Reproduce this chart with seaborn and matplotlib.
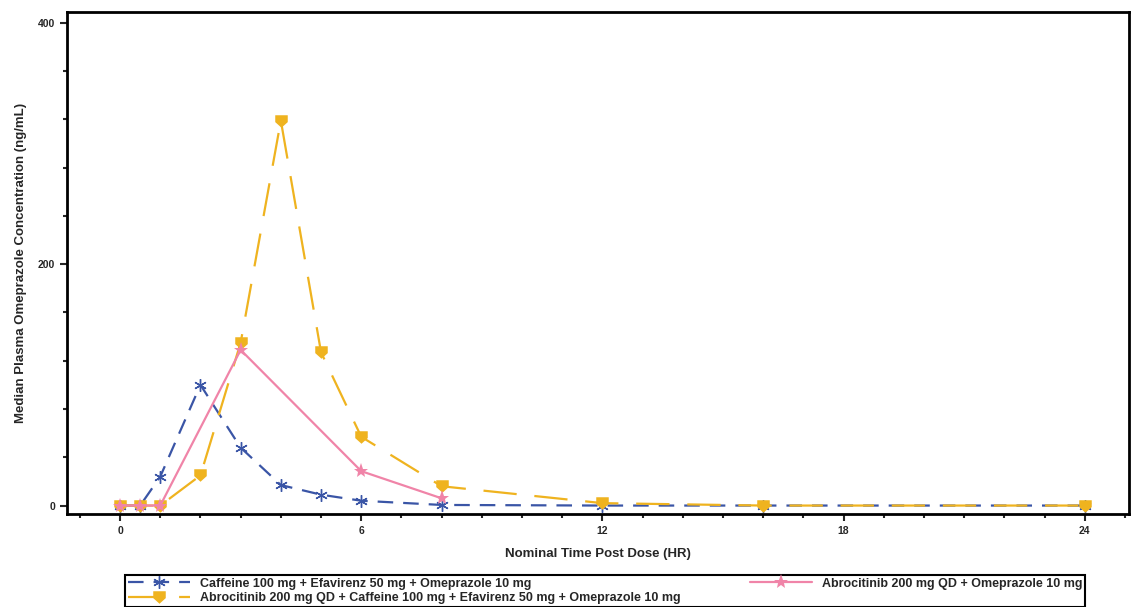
import numpy as np
import pandas as pd
import seaborn as sns
import matplotlib.pyplot as plt
from matplotlib.ticker import MultipleLocator

# nominal time (hr) and median concentrations (ng/mL)
time_caf = [0, 0.5, 1, 2, 3, 4, 5, 6, 8, 12, 16, 24]
conc_caf = [0, 0, 24, 100, 48, 17, 9, 4, 0.5, 0, 0, 0]

time_combo = [0, 0.5, 1, 2, 3, 4, 5, 6, 8, 12, 16, 24]
conc_combo = [0, 0, 0, 25, 135, 319, 127, 57, 16, 2, 0, 0]

time_abro = [0, 0.5, 1, 3, 6, 8]
conc_abro = [0, 0, 0, 129, 28.5, 6]

labels = [
    "Caffeine 100 mg + Efavirenz 50 mg + Omeprazole 10 mg",
    "Abrocitinib 200 mg QD + Caffeine 100 mg + Efavirenz 50 mg + Omeprazole 10 mg",
    "Abrocitinib 200 mg QD + Omeprazole 10 mg",
]
x_ticks = [0, 6, 12, 18, 24]
y_ticks = [0, 200, 400]

sns.set_style("ticks")
plt.rcParams["font.family"] = ["Liberation Sans", "DejaVu Sans"]

fig, ax = plt.subplots(figsize=(11.31, 6.07), dpi=100)
fig.subplots_adjust(left=67 / 1131, right=1129 / 1131, top=1 - 12 / 607, bottom=1 - 514 / 607)

blue = "#3a55a6"
yellow = "#efb31f"
pink = "#f084a8"

shield = [(-1, 1), (1, 1), (1, -0.1), (0, -1), (-1, -0.1), (-1, 1)]

sns.lineplot(x=time_caf, y=conc_caf, ax=ax, color=blue, label=labels[0],
             linestyle=(0, (7, 4.5)), linewidth=1.6, marker=(6, 2, 0), markersize=9,
             markeredgewidth=1, markeredgecolor=blue, estimator=None)
sns.lineplot(x=time_combo, y=conc_combo, ax=ax, color=yellow, label=labels[1],
             linestyle=(0, (15, 8)), linewidth=1.6, marker=shield, markersize=9,
             markeredgewidth=0, estimator=None)
sns.lineplot(x=time_abro, y=conc_abro, ax=ax, color=pink, label=labels[2],
             linestyle="-", linewidth=1.6, marker="*", markersize=11,
             markeredgewidth=0, estimator=None)

ax.set_xlim(-1.32, 25.1)
ax.set_ylim(-7, 409)
ax.set_xticks(x_ticks)
ax.set_yticks(y_ticks)
ax.xaxis.set_minor_locator(MultipleLocator(1))
ax.yaxis.set_minor_locator(MultipleLocator(40))
ax.tick_params(which="major", length=5, width=1.5, labelsize=7.5)
ax.tick_params(which="minor", length=3, width=1.5)
for lab in ax.get_xticklabels() + ax.get_yticklabels():
    lab.set_fontweight("bold")

for sp in ax.spines.values():
    sp.set_visible(True)
    sp.set_linewidth(2)
    sp.set_color("black")

ax.set_xlabel("Nominal Time Post Dose (HR)", fontsize=9.5, fontweight="bold", labelpad=9)
ax.set_ylabel("Median Plasma Omeprazole Concentration (ng/mL)", fontsize=9.5,
              fontweight="bold", labelpad=8)

handles, labs = ax.get_legend_handles_labels()
ax.get_legend().remove()
leg = fig.legend(handles, labs, ncol=2, loc="upper left",
                 bbox_to_anchor=(125 / 1131, -0.2, 960 / 1131, 0.2 + 32 / 607),
                 mode="expand", fancybox=False, framealpha=1, edgecolor="black",
                 handlelength=5, fontsize=9, borderpad=0.2, labelspacing=0.2,
                 columnspacing=2, borderaxespad=0)
leg.get_frame().set_linewidth(1.5)
for t in leg.get_texts():
    t.set_fontweight("bold")

fig.savefig("out.png", dpi=100)
